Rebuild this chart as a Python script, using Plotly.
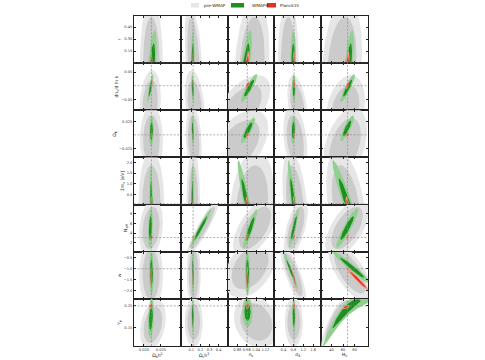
import numpy as np
import plotly.graph_objects as go
from plotly.subplots import make_subplots

# ---------------- data ----------------
col_names = ["Ω<sub>b</sub>h<sup>2</sup>", "Ω<sub>c</sub>h<sup>2</sup>", "n<sub>s</sub>", "σ<sub>8</sub>", "H<sub>0</sub>"]
row_names = ["r", "dn<sub>s</sub>/d ln k", "Ω<sub>K</sub>", "Σm<sub>ν</sub> [eV]", "N<sub>eff</sub>", "w", "Y<sub>P</sub>"]

col_fid = [0.0222, 0.12, 0.965, 0.83, 67.7]
row_fid = [0.0, 0.0, 0.0, 0.06, 3.046, -1.0, 0.25]

col_range = [[0.01706, 0.03088], [-0.0145, 0.498], [0.797, 1.197], [0.04, 1.92], [22.1, 103.1]]
row_range = [[0.0, 0.5875], [-0.0907, 0.0833], [-0.0417, 0.0454], [0.028, 2.235],
             [0.07, 9.97], [-2.364, -0.227], [0.068, 0.282]]

col_ticks = [[0.020, 0.025], [0.1, 0.2, 0.3, 0.4], [0.88, 0.96, 1.04, 1.12], [0.4, 0.8, 1.2, 1.6], [40, 60, 80]]
col_ticktext = [["0.020", "0.025"], ["0.1", "0.2", "0.3", "0.4"], ["0.88", "0.96", "1.04", "1.12"],
                ["0.4", "0.8", "1.2", "1.6"], ["40", "60", "80"]]
row_ticks = [[0.15, 0.30, 0.45], [-0.05, 0.05], [-0.025, 0.025], [0.5, 1.0, 1.5, 2.0],
             [2, 4, 6, 8], [-2.0, -1.5, -1.0, -0.5], [0.15, 0.25]]
row_ticktext = [["0.15", "0.30", "0.45"], ["−0.05", "0.05"], ["−0.025", "0.025"],
                ["0.5", "1.0", "1.5", "2.0"], ["2", "4", "6", "8"],
                ["−2.0", "−1.5", "−1.0", "−0.5"], ["0.15", "0.25"]]
row_lower = [0.0, None, None, 0.0, None, None, None]  # physical prior bounds

# contour parameters per panel: (centre x, centre y, 95% half-width x, 95% half-width y, correlation[, bend])
pre_wmap = [
    [(0.0222, 0, 0.0034, 0.80, 0.0), (0.127, 0, 0.098, 0.80, -0.4), (1.006, 0, 0.148, 0.80, 0.2),
     (0.60, 0, 0.42, 0.80, 0.0), (58.3, 0, 34.5, 0.80, 0.2)],
    [(0.0218, -0.072, 0.0032, 0.13, 0.2), (0.138, -0.072, 0.109, 0.13, -0.3), (0.902, -0.091, 0.26, 0.13, 0.6),
     (0.96, -0.072, 0.40, 0.11, -0.4), (63.4, -0.091, 34.5, 0.13, 0.3)],
    [(0.0222, -0.0102, 0.0034, 0.065, 0.0), (0.127, -0.0102, 0.087, 0.065, -0.2), (0.884, -0.0194, 0.26, 0.065, 0.5),
     (0.88, -0.0102, 0.48, 0.065, -0.3), (63.4, -0.0194, 38.0, 0.07, 0.4)],
    [(0.0222, 0, 0.0038, 2.6, 0.0), (0.122, 0, 0.076, 2.6, 0.0), (1.006, 0, 0.19, 2.6, 0.2),
     (0.88, 0, 0.52, 2.6, -0.4), (65.2, 0, 34.5, 2.6, -0.4)],
    [(0.0221, 5.04, 0.0035, 6.2, 0.2), (0.2254, 5.04, 0.185, 6.2, 0.93), (1.032, 5.04, 0.19, 6.2, 0.6),
     (0.90, 5.04, 0.48, 6.2, 0.6), (66.9, 5.04, 38.0, 6.2, 0.6)],
    [(0.0221, -1.27, 0.0035, 1.59, 0.0), (0.127, -1.27, 0.076, 1.59, 0.0), (0.989, -0.95, 0.22, 1.36, 0.4),
     (0.80, -1.27, 0.52, 1.36, -0.8), (72.0, -1.14, 38.0, 1.36, -0.7)],
    [(0.02265, 0.164, 0.0038, 0.114, 0.3), (0.127, 0.177, 0.098, 0.114, 0.0), (1.041, 0.177, 0.19, 0.118, -0.2),
     (0.82, 0.177, 0.36, 0.114, 0.0), (51.4, 0.164, 31.0, 0.114, 0.9, 0.4)],
]

wmap9 = [
    [(0.0225, 0, 0.0013, 0.41, 0.5), (0.116, 0, 0.022, 0.41, 0.2), (0.954, 0, 0.052, 0.41, 0.7),
     (0.80, 0, 0.12, 0.41, 0.0), (70.3, 0, 8.6, 0.41, 0.6)],
    [(0.0219, -0.009, 0.0009, 0.052, 0.85), (0.116, -0.009, 0.016, 0.052, -0.3), (0.98, -0.009, 0.07, 0.052, 0.9),
     (0.82, -0.009, 0.08, 0.052, 0.0), (67.8, -0.009, 12.9, 0.052, 0.9)],
    [(0.0222, 0.0065, 0.0007, 0.028, 0.2), (0.116, 0.0065, 0.016, 0.028, -0.3), (0.971, 0.0083, 0.061, 0.024, 0.85),
     (0.80, 0.0083, 0.10, 0.026, 0.2), (66.9, 0.012, 12.0, 0.024, 0.85)],
    [(0.0222, 0, 0.0006, 1.9, -0.2), (0.113, 0, 0.016, 1.9, 0.0), (0.963, 0, 0.08, 2.1, -0.93),
     (0.82, 0, 0.24, 2.1, -0.88), (68.6, 0, 27.0, 2.1, -0.95)],
    [(0.0219, 5.04, 0.00074, 4.14, 0.3), (0.2036, 5.04, 0.12, 4.14, 0.97), (0.989, 4.83, 0.061, 4.14, 0.9),
     (0.82, 5.04, 0.20, 4.14, 0.9), (67.0, 5.04, 19.0, 4.14, 0.92)],
    [(0.0222, -1.18, 0.0007, 1.0, 0.0), (0.118, -1.18, 0.014, 1.0, 0.0), (0.967, -1.18, 0.022, 1.0, 0.0),
     (0.70, -1.09, 0.30, 0.86, -0.97), (75.5, -0.95, 34.5, 0.77, -0.97)],
    [(0.02206, 0.195, 0.0009, 0.091, 0.3), (0.116, 0.2045, 0.016, 0.077, 0.0), (0.967, 0.223, 0.043, 0.068, 0.0),
     (0.82, 0.2045, 0.08, 0.077, 0.0), (66.0, 0.17, 40.5, 0.107, 0.95, 0.6)],
]

planck15 = [
    [(0.0222, 0, 0.0003, 0.15, 0.2), (0.119, 0, 0.006, 0.15, 0.0), (0.966, 0, 0.017, 0.15, 0.5),
     (0.83, 0, 0.05, 0.15, 0.0), (67.7, 0, 3.4, 0.15, 0.5)],
    [(0.02225, 0.009, 0.0003, 0.015, 0.5), (0.12, 0.006, 0.006, 0.015, -0.3), (0.966, 0.002, 0.017, 0.015, 0.8),
     (0.83, 0.006, 0.04, 0.015, 0.0), (67.7, 0.002, 3.4, 0.015, 0.8)],
    [(0.0222, 0.0, 0.0003, 0.004, 0.0), (0.12, 0.0, 0.006, 0.004, 0.0), (0.966, 0.0, 0.015, 0.004, 0.5),
     (0.83, 0.0, 0.04, 0.004, 0.0), (67.7, 0.0, 3.0, 0.004, 0.5)],
    [(0.0222, 0, 0.0003, 0.42, 0.0), (0.12, 0, 0.006, 0.42, 0.0), (0.966, 0, 0.015, 0.42, -0.3),
     (0.83, 0, 0.05, 0.42, -0.5), (67.7, 0, 3.4, 0.42, -0.5)],
    [(0.0222, 3.17, 0.0003, 0.62, 0.3), (0.12, 3.17, 0.011, 0.62, 0.9), (0.963, 3.17, 0.013, 0.62, 0.8),
     (0.82, 3.17, 0.04, 0.62, 0.5), (67.7, 3.17, 2.5, 0.62, 0.8)],
    [(0.0221, -1.41, 0.0002, 0.55, 0.0), (0.12, -1.41, 0.006, 0.55, 0.0), (0.966, -1.5, 0.009, 0.6, 0.0),
     (0.84, -1.5, 0.11, 0.55, -0.97), (85.9, -1.5, 22.4, 0.6, -0.98)],
    [(0.0221, 0.25, 0.0004, 0.014, 0.3), (0.12, 0.25, 0.005, 0.014, 0.0), (0.966, 0.25, 0.013, 0.014, 0.0),
     (0.83, 0.25, 0.04, 0.014, 0.0), (65.0, 0.245, 6.7, 0.009, 0.5)],
]

dataset_names = ["pre-WMAP", "WMAP9", "Planck15"]
datasets = [pre_wmap, wmap9, planck15]

# ---------------- styling ----------------
fills = [("#e6e6e6", "#cbcbcb"), ("#92d092", "#1f8f1f"), ("#f29a88", "#e0331f")]
inner_ratio = [0.72, 0.6, 0.6]

W, H = 485, 360
GX0, GX1, GY0, GY1 = 134, 368, 16, 346   # grid box in pixels
L, T, R, B = GX0, GY0, W - GX1, H - GY1
NR, NC = 7, 5


def contour(p, s, lower):
    cx, cy, wx, wy, rho = p[:5]
    bend = p[5] if len(p) > 5 else 0.0
    t = np.linspace(0, 2 * np.pi, 161)
    u = np.cos(t)
    v = rho * np.cos(t) + np.sqrt(1 - rho ** 2) * np.sin(t)
    x = cx + wx * s * u
    y = cy + wy * (s * v + bend * (1 - (s * u) ** 2))
    if lower is not None:
        y = np.maximum(y, lower)
    return x, y


fig = make_subplots(rows=NR, cols=NC, horizontal_spacing=0, vertical_spacing=0)

for r in range(NR):
    for c in range(NC):
        for d, ds in enumerate(datasets):
            p = ds[r][c]
            for k, s in enumerate([1.0, inner_ratio[d]]):
                x, y = contour(p, s, row_lower[r])
                fig.add_trace(go.Scatter(x=x, y=y, mode="lines", fill="toself",
                                         fillcolor=fills[d][k], line=dict(width=0),
                                         hoverinfo="skip", showlegend=False),
                              row=r + 1, col=c + 1)
        dash = dict(color="#8a8a8a", width=0.7, dash="2px,1.6px")
        fig.add_vline(x=col_fid[c], line=dash, row=r + 1, col=c + 1)
        fig.add_hline(y=row_fid[r], line=dash, row=r + 1, col=c + 1)

axis_common = dict(showgrid=False, zeroline=False, showline=True, linecolor="#222", linewidth=0.8,
                   mirror="ticks", ticks="inside", ticklen=2, tickwidth=0.6, tickcolor="#222",
                   tickfont=dict(size=3.6, color="#333"), automargin=False, tickangle=0)

for r in range(NR):
    for c in range(NC):
        fig.update_xaxes(range=col_range[c], tickvals=col_ticks[c], ticktext=col_ticktext[c],
                         showticklabels=(r == NR - 1), row=r + 1, col=c + 1, **axis_common)
        fig.update_yaxes(range=row_range[r], tickvals=row_ticks[r], ticktext=row_ticktext[r],
                         showticklabels=(c == 0), row=r + 1, col=c + 1, **axis_common)
        if r == NR - 1:
            fig.update_xaxes(title=dict(text=col_names[c], font=dict(size=4.6, color="#222"), standoff=1),
                             row=r + 1, col=c + 1)
        if c == 0:
            fig.update_yaxes(title=dict(text=row_names[r], font=dict(size=4.6, color="#222"), standoff=2),
                             row=r + 1, col=c + 1)

# legend (manual, above the grid)
def pxx(px):
    return (px - GX0) / (GX1 - GX0)


def pyy(py):
    return (GY1 - py) / (GY1 - GY0)


legend_patch_px = [191, 231, 267]
legend_patch_w = [8, 13, 9]
legend_text_px = [202, 250, 278]
for i, name in enumerate(dataset_names):
    fig.add_shape(type="rect", xref="paper", yref="paper",
                  x0=pxx(legend_patch_px[i]), x1=pxx(legend_patch_px[i] + legend_patch_w[i]),
                  y0=pyy(7.5), y1=pyy(3.0), fillcolor=fills[i][1] if i else fills[i][0],
                  line=dict(width=0))
    fig.add_annotation(x=pxx(legend_text_px[i]), y=pyy(5.3), xref="paper", yref="paper",
                       text=name, showarrow=False, xanchor="left", yanchor="middle",
                       font=dict(size=4.2, color="#222"))

fig.update_layout(width=W, height=H, margin=dict(l=L, r=R, t=T, b=B, autoexpand=False),
                  paper_bgcolor="white", plot_bgcolor="white",
                  font=dict(family="DejaVu Sans"), showlegend=False)

fig.write_html("out.html", config={"displayModeBar": False},
               post_script="document.body.style.margin='0px';document.body.style.overflow='hidden';")
